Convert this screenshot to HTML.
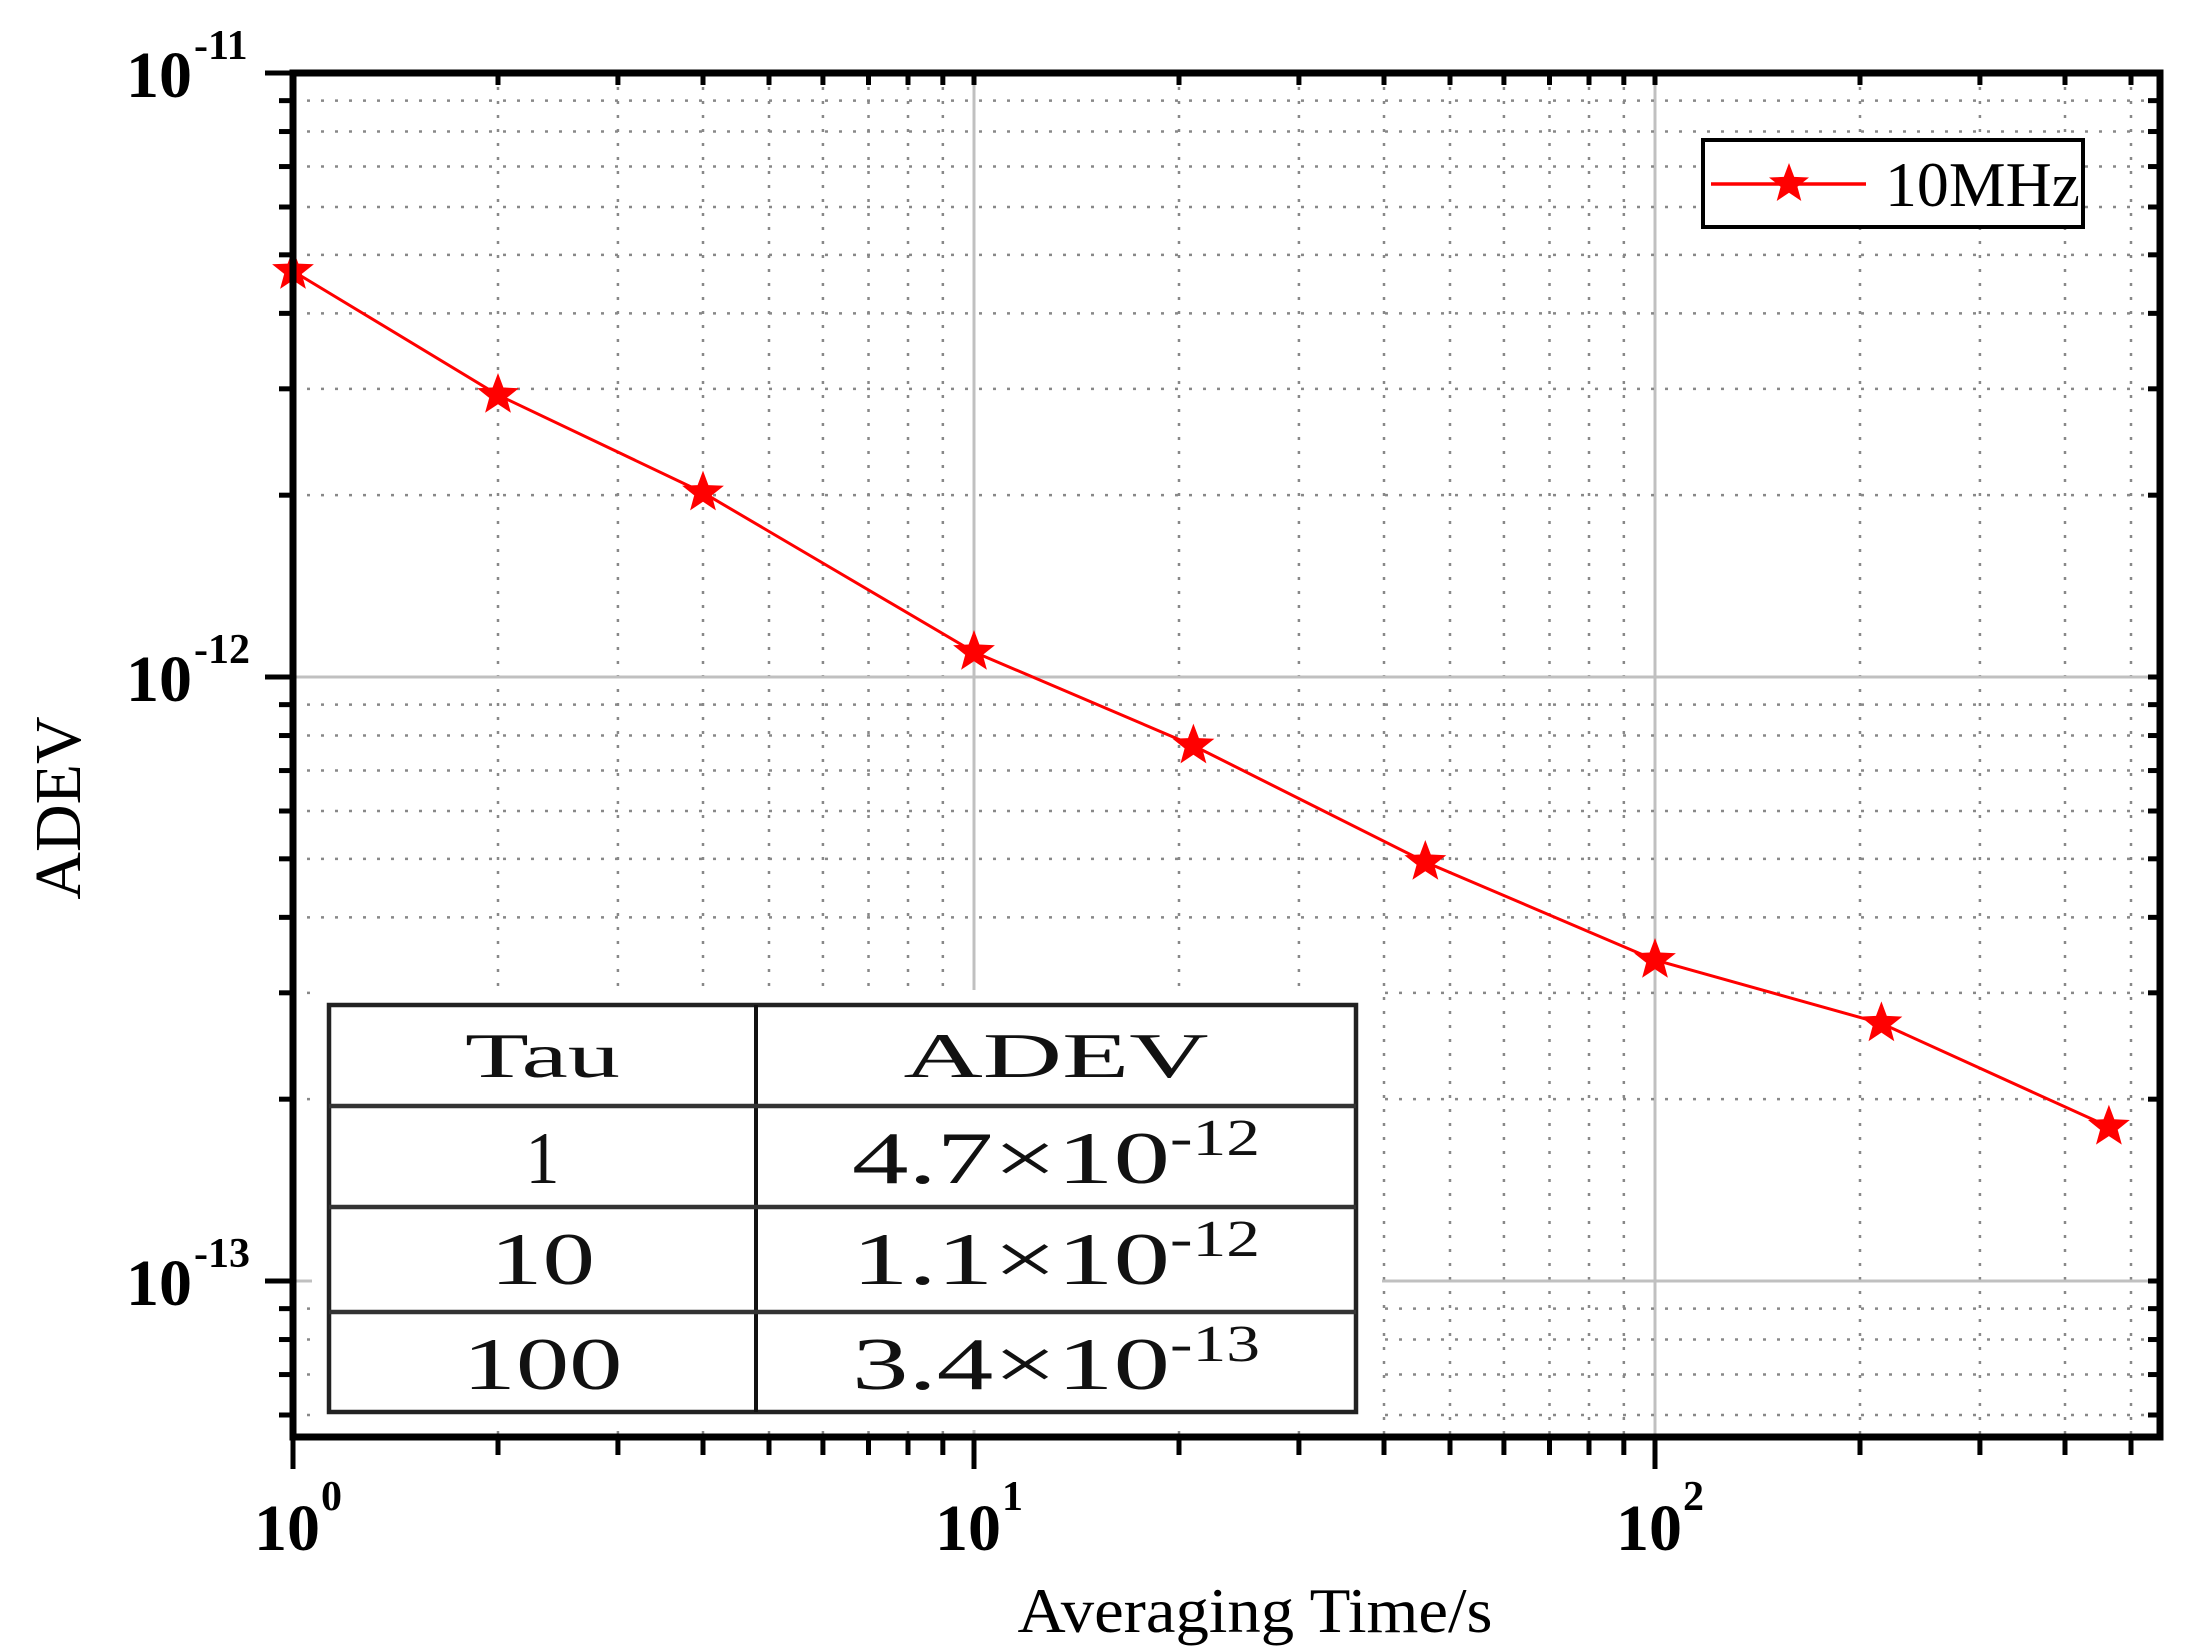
<!DOCTYPE html>
<html><head><meta charset="utf-8"><style>
html,body{margin:0;padding:0;background:#fff}
svg{display:block}
text{font-family:"Liberation Serif",serif}
</style></head><body>
<svg id="chart" width="2192" height="1648" viewBox="0 0 2192 1648" xmlns="http://www.w3.org/2000/svg">
<g id="grid"></g>
<g id="series"></g>
<g id="tbl"></g>
<g id="axes"></g>
<g>
<rect x="1703" y="140" width="380" height="87" fill="#fff" stroke="#000" stroke-width="4"/>
<line x1="1711" y1="184" x2="1866" y2="184" stroke="#f00" stroke-width="3.5"/>
<text id="legstar" x="1789" y="184"></text>
<text x="1885" y="206" font-size="64" textLength="195" lengthAdjust="spacingAndGlyphs">10MHz</text>
</g>
<text x="1255" y="1632" font-size="64" text-anchor="middle" textLength="475" lengthAdjust="spacingAndGlyphs">Averaging Time/s</text>
<text x="0" y="0" font-size="66" text-anchor="middle" transform="translate(80,808) rotate(-90)">ADEV</text>
</svg>
<script>
const tauValues=[1,2,4,10,21,46,100,215,464];
const adevValues=[4.7e-12,2.93e-12,2.02e-12,1.1e-12,7.7e-13,4.94e-13,3.4e-13,2.67e-13,1.8e-13];
const xTickExps=[0,1,2];
const yTickExps=[-11,-12,-13];
const tableTau=["1","10","100"];
const tableMant=["4.7","1.1","3.4"];
const tableExp=["-12","-12","-13"];

const NS="http://www.w3.org/2000/svg";
const L=293,R=2160,T=73,B=1437;
const XD=681, YD=604;
const xs=v=>L+Math.log10(v)*XD;
const ys=v=>T+(-11-Math.log10(v))*YD;
function mk(tag,attrs,parent){const e=document.createElementNS(NS,tag);for(const k in attrs)e.setAttribute(k,attrs[k]);parent.appendChild(e);return e;}
const grid=document.getElementById('grid'),axes=document.getElementById('axes'),ser=document.getElementById('series'),tbl=document.getElementById('tbl');

const xMax=Math.pow(10,(R-L)/XD);
for(let d=0;d<3;d++){for(let m=1;m<10;m++){const v=m*Math.pow(10,d);if(v>xMax)break;const x=xs(v);if(x<=L+2)continue;
 const ln=mk('line',{x1:x,y1:T,x2:x,y2:B,stroke:m===1?'#c0c0c0':'#888','stroke-width':m===1?3:2.5,'stroke-dasharray':m===1?'none':'3 11'},grid);
 }}
const yMin=Math.pow(10,-11-(B-T)/YD);
for(let e=-14;e<-11;e++){for(let m=1;m<10;m++){const v=m*Math.pow(10,e);if(v<yMin)continue;const y=ys(v);if(y<=T+2||y>=B)continue;
 const ln=mk('line',{x1:L,y1:y,x2:R,y2:y,stroke:m===1?'#c0c0c0':'#888','stroke-width':m===1?3:2.5,'stroke-dasharray':m===1?'none':'3 11'},grid);
 }}

function star(cx,cy,r,parent){let p='';for(let i=0;i<10;i++){const a=-Math.PI/2+i*Math.PI/5;const rr=i%2?r*0.42:r;p+=(i?'L':'M')+(cx+rr*Math.cos(a)).toFixed(1)+','+(cy+rr*Math.sin(a)).toFixed(1);}return mk('path',{d:p+'Z',fill:'#f00'},parent);}
const pts=tauValues.map((t,i)=>xs(t).toFixed(1)+','+ys(adevValues[i]).toFixed(1)).join(' ');
const pl=mk('polyline',{points:pts,fill:'none',stroke:'#f00','stroke-width':3},ser);

tauValues.forEach((t,i)=>{const s=star(xs(t),ys(adevValues[i]),22,ser);
 });
const ls=star(1789,184,21,document.getElementById('legstar').parentNode);


const tx0=329,tx1=1356,tdiv=756,rowsY=[1005,1106,1207,1312,1412];
const bg=mk('rect',{x:312,y:990,width:1070,height:440,fill:'#fff'},tbl);

mk('rect',{x:tx0,y:rowsY[0],width:tx1-tx0,height:rowsY[4]-rowsY[0],fill:'none',stroke:'#222','stroke-width':4.5},tbl);
mk('line',{x1:tdiv,y1:rowsY[0],x2:tdiv,y2:rowsY[4],stroke:'#111','stroke-width':4},tbl);
for(let i=1;i<4;i++)mk('line',{x1:tx0,y1:rowsY[i],x2:tx1,y2:rowsY[i],stroke:'#333','stroke-width':4.5},tbl);
function ttext(x,y,str,len,fs,name){const t=mk('text',{x:x,y:y,'font-size':fs,'text-anchor':'middle',textLength:len,lengthAdjust:'spacingAndGlyphs',fill:'#111'},tbl);t.textContent=str;
 return t;}
ttext((tx0+tdiv)/2,1077,'Tau',155,64,'table-header-tau');
ttext((tdiv+tx1)/2,1077,'ADEV',305,64,'table-header-adev');
const tauW=[34,105,160];
tableTau.forEach((s,i)=>{const y=rowsY[i+1]+77;
 ttext((tx0+tdiv)/2,y,s,tauW[i],74,'table-tau-cell');
 const t=mk('text',{x:852,y:y,'font-size':74,fill:'#111'},tbl);
 
 const a=mk('tspan',{textLength:318,lengthAdjust:'spacingAndGlyphs'},t);a.textContent=tableMant[i]+'\u00d710';
 const b=mk('tspan',{dy:-28,'font-size':52,textLength:90,lengthAdjust:'spacingAndGlyphs'},t);b.textContent=tableExp[i];
});

mk('rect',{x:L,y:T,width:R-L,height:B-T,fill:'none',stroke:'#000','stroke-width':7},axes);
for(let d=0;d<3;d++){for(let m=1;m<10;m++){const v=m*Math.pow(10,d);if(v>xMax)break;const x=xs(v);const maj=m===1;
 mk('line',{x1:x,y1:B,x2:x,y2:B+(maj?32:18),stroke:'#000','stroke-width':5},axes);
 if(x>L+3&&x<R-3)mk('line',{x1:x,y1:T,x2:x,y2:T+12,stroke:'#000','stroke-width':5},axes);}}
xTickExps.forEach(e=>{const x=xs(Math.pow(10,e));
 const t=mk('text',{x:x-6,y:1550,'font-size':66,'font-weight':'bold','text-anchor':'middle'},axes);t.textContent='10';
 
 const s=mk('text',{x:x+28,y:1510,'font-size':42,'font-weight':'bold'},axes);s.textContent=String(e);
 });
for(let e=-14;e<-10;e++){for(let m=1;m<10;m++){const v=m*Math.pow(10,e);if(v<yMin||v>1.001e-11)continue;const y=ys(v);const maj=m===1;
 mk('line',{x1:L-(maj?28:14),y1:y,x2:L,y2:y,stroke:'#000','stroke-width':5},axes);
 mk('line',{x1:R-12,y1:y,x2:R,y2:y,stroke:'#000','stroke-width':5},axes);}}
yTickExps.forEach(e=>{const y=ys(Math.pow(10,e));
 const t=mk('text',{x:192,y:y+24,'font-size':66,'font-weight':'bold','text-anchor':'end'},axes);t.textContent='10';
 
 const s=mk('text',{x:194,y:y-14,'font-size':42,'font-weight':'bold'},axes);s.textContent=String(e);
 });
</script>
</body></html>
